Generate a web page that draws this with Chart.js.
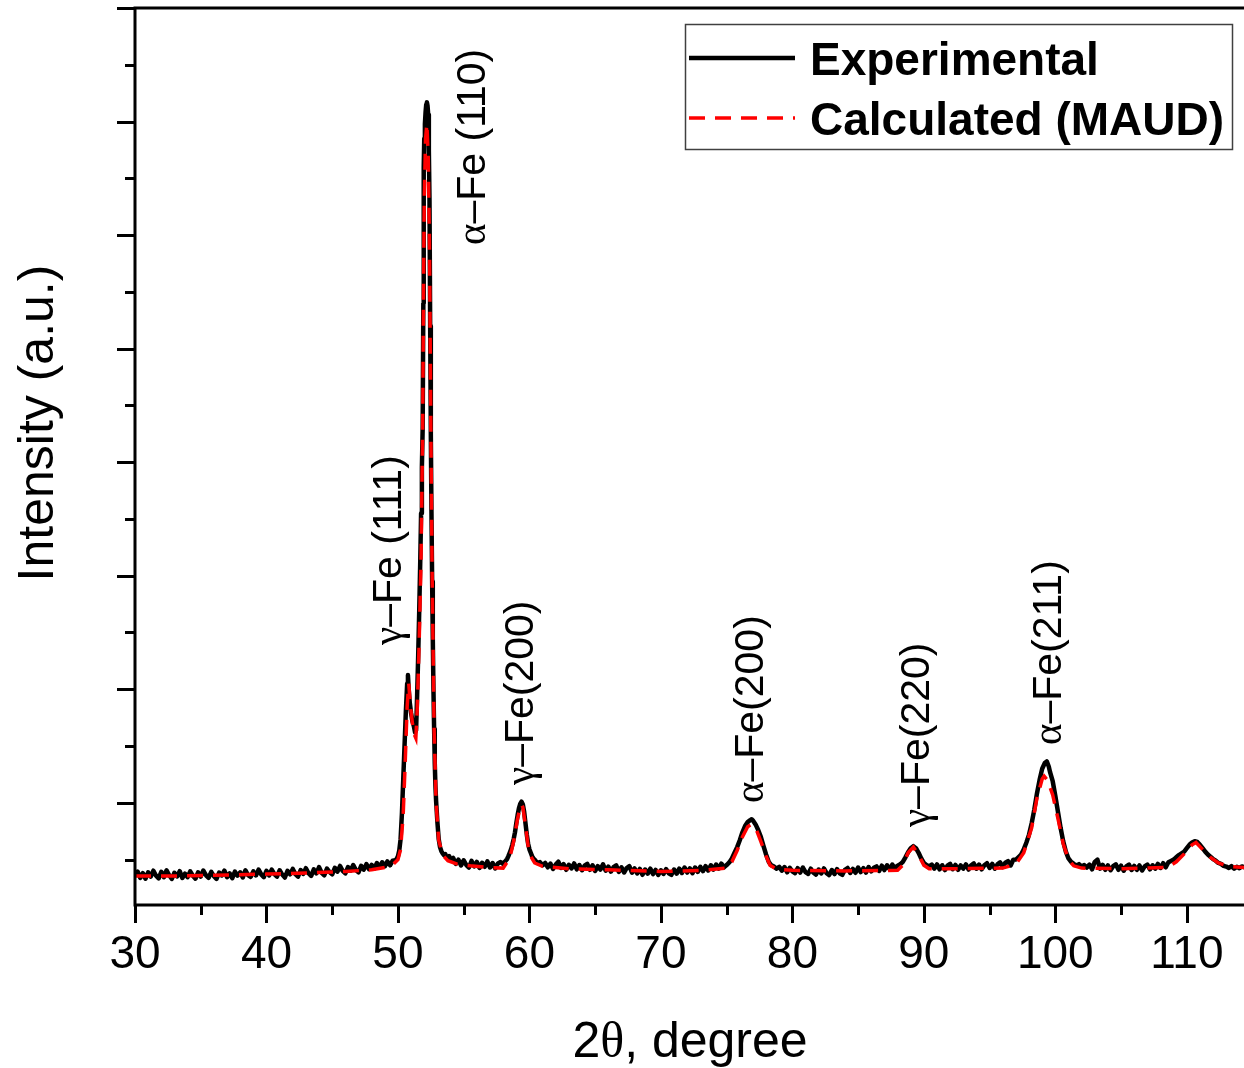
<!DOCTYPE html>
<html>
<head>
<meta charset="utf-8">
<title>XRD pattern</title>
<script src="https://cdn.jsdelivr.net/npm/chart.js@4.4.1/dist/chart.umd.min.js"></script>
<style>
    html, body { margin: 0; padding: 0; background: #fff; }
    canvas { display: block; }
</style>
</head>
<body>
<canvas id="chart" width="1244" height="1068"></canvas>
<script>
/* Measured scan: 2theta (deg) and counts, grouped by region */
const expAngle = [
    // 30 - 49.6 background
    30,30.2,30.4,30.6,30.8,31,31.2,31.4,31.6,31.8,
    32,32.2,32.4,32.6,32.8,33,33.2,33.4,33.6,33.8,
    34,34.2,34.4,34.6,34.8,35,35.2,35.4,35.6,35.8,
    36,36.2,36.4,36.6,36.8,37,37.2,37.4,37.6,37.8,
    38,38.2,38.4,38.6,38.8,39,39.2,39.4,39.6,39.8,
    40,40.2,40.4,40.6,40.8,41,41.2,41.4,41.6,41.8,
    42,42.2,42.4,42.6,42.8,43,43.2,43.4,43.6,43.8,
    44,44.2,44.4,44.6,44.8,45,45.2,45.4,45.6,45.8,
    46,46.2,46.4,46.6,46.8,47,47.2,47.4,47.6,47.8,
    48,48.2,48.4,48.6,48.8,49,49.2,49.4,49.6,
    // gamma (111) + alpha (110)
    49.8,49.9,50,50.1,50.2,50.3,50.4,50.5,50.6,50.7,
    50.76,50.82,50.9,51,51.1,51.2,51.3,51.38,51.46,51.54,
    51.62,51.7,51.76,51.82,51.88,51.93,51.96,52,52.05,52.1,
    52.15,52.2,52.25,52.3,52.35,52.4,52.45,52.5,52.55,52.6,
    52.65,52.7,52.75,52.8,52.85,52.9,53,53.1,53.2,53.3,
    53.4,53.5,53.6,53.7,53.8,53.9,54,
    // background
    54.2,54.4,54.6,54.8,55,55.2,55.4,55.6,55.8,56,
    56.2,56.4,56.6,56.8,57,57.2,57.4,57.6,57.8,
    // gamma (200)
    58,58.1,58.2,58.3,58.4,58.5,58.6,58.7,58.8,58.9,
    59,59.1,59.2,59.3,59.4,59.5,59.6,59.7,59.8,59.9,
    60,60.1,60.2,60.3,60.4,60.5,60.6,60.8,61,
    // background
    61.2,61.4,61.6,61.8,62,62.2,62.4,62.6,62.8,63,
    63.2,63.4,63.6,63.8,64,64.2,64.4,64.6,64.8,65,
    65.2,65.4,65.6,65.8,66,66.2,66.4,66.6,66.8,67,
    67.2,67.4,67.6,67.8,68,68.2,68.4,68.6,68.8,69,
    69.2,69.4,69.6,69.8,70,70.2,70.4,70.6,70.8,71,
    71.2,71.4,71.6,71.8,72,72.2,72.4,72.6,72.8,73,
    73.2,73.4,73.6,73.8,74,74.2,74.4,74.6,74.8,
    // alpha (200)
    75,75.2,75.4,75.6,75.8,76,76.2,76.4,76.6,76.8,
    76.9,77,77.2,77.4,77.6,77.8,78,78.2,78.4,78.6,
    78.8,79,
    // background
    79.2,79.4,79.6,79.8,80,80.2,80.4,80.6,80.8,81,
    81.2,81.4,81.6,81.8,82,82.2,82.4,82.6,82.8,83,
    83.2,83.4,83.6,83.8,84,84.2,84.4,84.6,84.8,85,
    85.2,85.4,85.6,85.8,86,86.2,86.4,86.6,86.8,87,
    87.2,87.4,87.6,87.8,
    // gamma (220)
    88,88.2,88.4,88.6,88.8,89,89.2,89.4,89.6,89.8,
    90,90.2,90.4,90.6,
    // background
    90.8,91,91.2,91.4,91.6,91.8,92,92.2,92.4,92.6,
    92.8,93,93.2,93.4,93.6,93.8,94,94.2,94.4,94.6,
    94.8,95,95.2,95.4,95.6,95.8,96,96.2,96.4,96.6,
    96.8,
    // alpha (211)
    97,97.2,97.4,97.6,97.8,98,98.2,98.4,98.6,98.8,
    99,99.2,99.35,99.5,99.6,99.8,100,100.2,100.4,100.6,
    100.8,101,101.2,101.4,101.6,101.8,102,102.2,102.4,
    // background
    102.6,102.8,103,103.2,103.4,103.6,103.8,104,104.2,104.4,
    104.6,104.8,105,105.2,105.4,105.6,105.8,106,106.2,106.4,
    106.6,106.8,107,107.2,107.4,107.6,107.8,108,108.2,108.4,
    108.6,108.8,
    // peak near 110.7
    109,109.2,109.4,109.6,109.8,110,110.2,110.4,110.6,110.8,
    111,111.2,111.4,111.6,111.8,112,112.2,112.4,112.6,112.8,
    113,113.2,113.4,113.6,113.8,114,114.2,114.4
];

const expCounts = [
    360,395,338,380,332,388,350,402,358,335,
    392,345,405,362,330,384,352,398,338,376,
    345,396,358,332,388,350,404,362,340,392,
    354,330,386,360,402,346,378,336,394,358,
    388,342,406,364,348,396,360,412,370,346,
    400,360,412,372,350,406,368,342,400,370,
    418,372,350,408,374,424,380,356,414,378,
    434,384,362,420,390,370,428,394,444,400,
    378,434,402,452,408,388,444,412,460,416,
    454,420,470,430,476,440,484,450,490,

    495,505,530,580,680,900,1200,1500,1800,2050,
    2125,2000,1880,1790,1720,1680,1620,1640,1950,2300,
    2700,3150,3550,3950,4300,5400,6600,6850,6980,7080,
    7150,7170,7140,7060,6750,6300,5200,4250,3550,2950,
    2450,2000,1650,1350,1150,1020,830,680,610,575,
    555,540,548,520,512,530,495,

    515,462,500,448,494,452,430,488,440,480,
    426,472,436,484,430,470,422,466,478,

    462,478,490,505,530,560,590,630,680,740,
    820,890,950,990,1010,985,920,820,720,640,
    590,560,530,510,500,485,470,478,450,

    470,432,464,418,456,482,426,460,410,454,
    422,466,414,452,406,446,462,410,450,400,
    442,412,458,402,438,394,434,450,392,432,
    386,426,442,384,422,378,418,366,412,376,
    420,372,410,364,406,374,416,380,366,412,
    376,420,382,430,386,422,380,430,392,436,
    398,442,404,450,412,456,420,464,432,

    452,475,510,560,610,670,740,795,830,848,
    855,845,810,760,700,620,545,480,450,438,
    420,436,

    402,434,388,428,396,380,424,386,430,390,
    374,420,384,368,412,378,422,380,364,408,
    372,416,380,366,410,426,382,418,384,430,
    390,424,386,434,396,428,440,400,446,408,
    450,414,456,424,

    446,458,480,520,565,600,618,600,560,510,
    470,452,440,456,

    420,458,414,450,408,446,462,416,454,410,
    448,420,458,412,450,466,420,456,414,450,
    468,426,462,420,458,476,434,472,486,448,
    498,

    500,520,545,590,650,720,820,940,1080,1200,
    1300,1350,1365,1320,1270,1190,1060,920,780,660,
    570,510,480,462,448,460,440,452,430,

    456,414,480,500,420,454,410,448,406,442,
    458,410,446,402,440,456,408,444,410,448,
    404,440,456,414,450,420,462,426,468,432,
    476,488,

    500,520,540,555,570,600,630,650,662,655,
    630,600,570,545,525,505,490,470,462,445,
    438,426,442,420,436,424,440,432
];

/* Refined profile */
const calcAngle = [
    30,33,36,40,43,46,48,49,49.6,50,
    50.2,50.4,50.55,50.7,50.82,50.95,51.1,51.25,51.36,51.46,
    51.55,51.62,51.75,51.88,51.95,52,52.1,52.2,52.3,52.4,
    52.5,52.6,52.75,52.9,53.1,53.4,53.8,54.5,55.5,57,
    58,58.5,58.8,59.1,59.3,59.4,59.5,59.7,59.9,60.1,
    60.4,61,63,66,70,73,75,75.4,75.8,76.2,
    76.6,76.9,77.2,77.6,78,78.3,78.8,80,84,88,
    88.4,88.8,89.2,89.6,90,90.4,93,96,97,97.6,
    98.2,98.6,99,99.15,99.4,99.8,100.2,100.6,101,101.4,
    102,105,108.5,109.2,109.8,110.4,110.7,111.2,111.8,112.4,
    113.2,114.4
];

const calcCounts = [
    355,355,362,372,382,395,410,430,455,500,
    590,900,1350,1850,2050,1850,1700,1600,1570,1800,
    2150,2450,3100,4300,5600,6300,6850,6980,6700,5900,
    4300,3000,1650,1000,670,540,490,460,445,430,
    425,510,660,860,960,985,960,800,620,530,
    470,440,420,410,395,405,425,480,580,700,
    790,810,780,660,530,450,415,405,400,405,
    450,560,610,540,450,420,420,425,460,560,
    780,1040,1210,1235,1200,1070,860,640,500,445,
    425,420,430,480,550,630,650,590,520,470,
    440,430
];

/* Reflection labels: text, centre line (2theta) and where the text starts (counts) */
const peakNames = ["γ–Fe (111)", "α–Fe (110)", "γ–Fe(200)", "α–Fe(200)", "γ–Fe(220)", "α–Fe(211)"];
const peakAngle = [49.16, 55.48, 59.2, 76.69, 89.28, 99.35];
const peakStart = [2390, 5913, 1157, 998, 787, 1509];

const SANS = '"Liberation Sans", Arial, sans-serif';
const SERIF = '"Liberation Serif", "Times New Roman", serif';

function toPoints(xs, ys) {
    return xs.map((a, i) => ({ x: a, y: ys[i] }));
}

/* draws text pieces one after another, each with its own font */
function drawPieces(ctx, pieces, x, y) {
    let cx = x;
    for (const [text, font] of pieces) {
        ctx.font = font;
        ctx.fillText(text, cx, y);
        cx += ctx.measureText(text).width;
    }
    return cx - x;
}

function piecesWidth(ctx, pieces) {
    let w = 0;
    for (const [text, font] of pieces) {
        ctx.font = font;
        w += ctx.measureText(text).width;
    }
    return w;
}

const frame = {
    id: "frame",
    afterDraw(chart) {
        const { ctx, chartArea: a, scales: { x, y } } = chart;
        ctx.save();
        ctx.strokeStyle = "#000";
        ctx.lineWidth = 3;
        ctx.lineCap = "butt";

        /* axis lines and the top border */
        ctx.beginPath();
        ctx.moveTo(a.left, a.top - 1.5);
        ctx.lineTo(a.left, a.bottom + 1.5);
        ctx.moveTo(a.left - 1.5, a.bottom);
        ctx.lineTo(a.right, a.bottom);
        ctx.moveTo(a.left, a.top);
        ctx.lineTo(a.right, a.top);
        ctx.stroke();

        /* x ticks, major every 10, minor every 5 */
        ctx.beginPath();
        for (let v = 30; v <= x.max; v += 5) {
            const px = Math.round(x.getPixelForValue(v)) + 0.5;
            const len = v % 10 === 0 ? 18 : 10;
            ctx.moveTo(px, a.bottom);
            ctx.lineTo(px, a.bottom + len);
        }
        /* y ticks, major every 1000, minor every 500 */
        for (let v = 500; v <= y.max; v += 500) {
            const py = Math.round(y.getPixelForValue(v)) + 0.5;
            const len = v % 1000 === 0 ? 18 : 10;
            ctx.moveTo(a.left, py);
            ctx.lineTo(a.left - len, py);
        }
        ctx.stroke();

        ctx.fillStyle = "#000";

        /* axis titles */
        const xTitle = [["2", "50px " + SANS], ["θ", "50px " + SERIF], [", degree", "50px " + SANS]];
        ctx.textBaseline = "alphabetic";
        ctx.textAlign = "left";
        const wx = piecesWidth(ctx, xTitle);
        drawPieces(ctx, xTitle, 690 - wx / 2, 1057);

        ctx.save();
        ctx.translate(53, 423);
        ctx.rotate(-Math.PI / 2);
        ctx.font = "50px " + SANS;
        ctx.textAlign = "center";
        ctx.fillText("Intensity (a.u.)", 0, 0);
        ctx.restore();

        /* reflection labels, reading upwards */
        peakNames.forEach((name, i) => {
            const cx = x.getPixelForValue(peakAngle[i]);
            const by = y.getPixelForValue(peakStart[i]);
            ctx.save();
            ctx.translate(cx + 14.5, by);
            ctx.rotate(-Math.PI / 2);
            drawPieces(ctx, [[name[0], "41px " + SERIF], [name.slice(1), "41px " + SANS]], 0, 0);
            ctx.restore();
        });

        /* legend */
        const lx = 685, ly = 24, lw = 547, lh = 125;
        ctx.fillStyle = "#fff";
        ctx.fillRect(lx, ly, lw, lh);
        ctx.strokeStyle = "#404040";
        ctx.lineWidth = 1.5;
        ctx.strokeRect(lx + 0.5, ly + 0.5, lw, lh);

        const rows = [58, 118];
        chart.data.datasets.forEach((ds, i) => {
            ctx.strokeStyle = ds.borderColor;
            ctx.lineWidth = ds.borderWidth;
            ctx.setLineDash(ds.borderDash || []);
            ctx.beginPath();
            ctx.moveTo(689, rows[i]);
            ctx.lineTo(795, rows[i]);
            ctx.stroke();
            ctx.setLineDash([]);
            ctx.fillStyle = "#000";
            ctx.font = "bold 46px " + SANS;
            ctx.fillText(ds.label, 810, rows[i] + 17);
        });

        ctx.restore();
    }
};

new Chart(document.getElementById("chart"), {
    type: "line",
    data: {
        datasets: [
            {
                label: "Experimental",
                data: toPoints(expAngle, expCounts),
                borderColor: "#000000",
                borderWidth: 4.5,
                borderJoinStyle: "round",
                pointRadius: 0,
                tension: 0,
                order: 1
            },
            {
                label: "Calculated (MAUD)",
                data: toPoints(calcAngle, calcCounts),
                borderColor: "#ff0000",
                borderWidth: 3.5,
                borderDash: [16, 10],
                pointRadius: 0,
                tension: 0,
                order: 0
            }
        ]
    },
    options: {
        responsive: false,
        animation: false,
        devicePixelRatio: 1,
        layout: { padding: { left: 135, top: 8, right: 0, bottom: 0 } },
        plugins: {
            legend: { display: false },
            tooltip: { enabled: false }
        },
        scales: {
            x: {
                type: "linear",
                min: 30,
                max: 114.35,
                grid: { display: false, drawTicks: false },
                border: { display: false },
                ticks: {
                    stepSize: 10,
                    includeBounds: false,
                    padding: 23,
                    maxRotation: 0,
                    color: "#000",
                    font: { family: SANS, size: 46 }
                },
                afterFit(scale) {
                    scale.height = 163;
                    scale.paddingLeft = 0;
                    scale.paddingRight = 0;
                }
            },
            y: {
                display: false,
                min: 100,
                max: 8000
            }
        }
    },
    plugins: [frame]
});
</script>
</body>
</html>
